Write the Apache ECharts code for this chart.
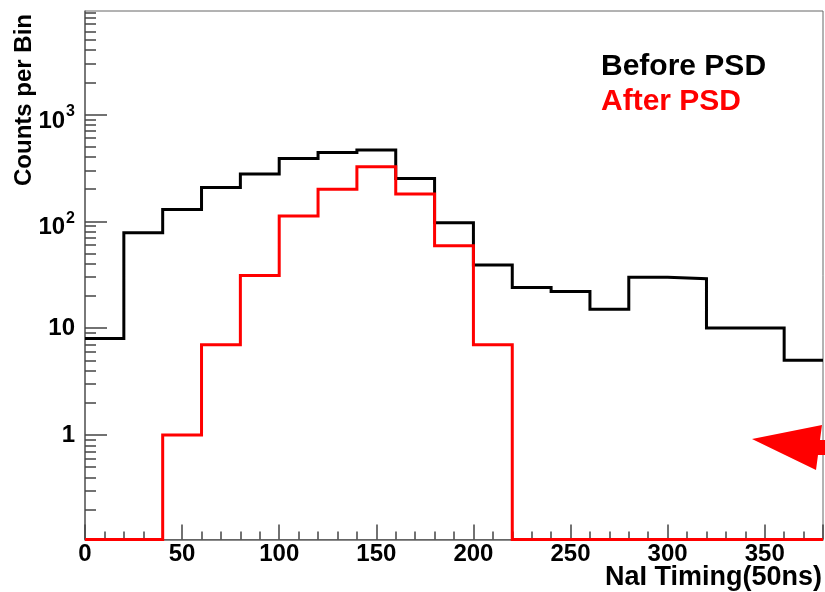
<!DOCTYPE html>
<html>
<head>
<meta charset="utf-8">
<script src="https://cdn.jsdelivr.net/npm/echarts@6/dist/echarts.min.js"></script>
<style>html,body{margin:0;padding:0;background:#fff}#c{width:825px;height:592px}</style>
</head>
<body>
<div id="c"></div>
<script>
// ---- data ----
var binEdges = [0, 20, 40, 60, 80, 100, 120, 140, 160, 180, 200, 220, 240, 260, 280, 300, 320, 340, 360, 380];
var beforePSD = [8, 78, 129, 207, 277, 387, 441, 464, 252, 97, 39, 24, 22, 15, 30, 29, 10, 10, 5];
var afterPSD  = [0, 0, 1, 7, 31, 112, 199, 324, 180, 59, 7, 0, 0, 0, 0, 0, 0, 0, 0];
var xTickLabels = [0, 50, 100, 150, 200, 250, 300, 350];
var yTickLabels = [1, 10, 100, 1000];
var seriesNames = ['Before PSD', 'After PSD'];
var xTitle = 'NaI Timing(50ns)';
var yTitle = 'Counts per Bin';

var X_MIN = 0, X_MAX = 380, Y_MIN = 0.105, Y_MAX = 9300;
var FONT = "'Liberation Sans', Arial, sans-serif";

// minor log ticks (2..9 x decade)
var yMinor = [];
[0.1, 1, 10, 100, 1000].forEach(function (d) {
  for (var k = 2; k <= 9; k++) {
    var v = +(d * k).toPrecision(3);
    if (v > Y_MIN && v < Y_MAX) yMinor.push(v);
  }
});

function stepData(vals) {
  var pts = [];
  for (var i = 0; i < vals.length; i++) {
    var v = vals[i] > 0 ? vals[i] : Y_MIN; // empty bins drawn on the frame floor
    pts.push([binEdges[i], v]);
  }
  pts.push([binEdges[vals.length], vals[vals.length - 1] > 0 ? vals[vals.length - 1] : Y_MIN]);
  return pts;
}

function yLabel(v) {
  var e = Math.round(Math.log10(v));
  if (e === 0) return '1';
  if (e === 1) return '10';
  return '{m|10}{s|' + e + '}';
}

var chart = echarts.init(document.getElementById('c'), null, { renderer: 'canvas' });
chart.setOption({
  animation: false,
  backgroundColor: '#fff',
  grid: { left: 85, right: 2, top: 11, bottom: 52.5, show: true, borderColor: '#666', borderWidth: 1, backgroundColor: 'transparent' },
  legend: {
    orient: 'vertical', left: 591, top: 47, icon: 'none', itemWidth: 0, itemHeight: 14, itemGap: 5,
    selectedMode: false,
    textStyle: { fontSize: 30, fontWeight: 'bold', fontFamily: FONT },
    data: [
      { name: seriesNames[0], textStyle: { color: '#000' } },
      { name: seriesNames[1], textStyle: { color: '#ff0000' } }
    ]
  },
  xAxis: {
    type: 'value', min: X_MIN, max: X_MAX, interval: 50,
    axisLine: { show: true, lineStyle: { color: '#666', width: 1.5 } },
    axisTick: { show: true, inside: true, length: 15, lineStyle: { color: '#444', width: 1.5 } },
    minorTick: { show: true, splitNumber: 5, length: 8, lineStyle: { color: '#444', width: 1.5 } },
    splitLine: { show: false },
    axisLabel: {
      margin: 3, color: '#000', fontSize: 24, fontWeight: 'bold', fontFamily: FONT,
      showMaxLabel: false,
      formatter: function (v) { return xTickLabels.indexOf(v) >= 0 ? String(v) : ''; }
    }
  },
  yAxis: [{
    type: 'log', logBase: 10, min: Y_MIN, max: Y_MAX,
    axisLine: { show: true, lineStyle: { color: '#666', width: 1.5 } },
    axisTick: { show: true, inside: true, length: 22, customValues: yTickLabels, lineStyle: { color: '#444', width: 1.5 } },
    splitLine: { show: false },
    axisLabel: {
      customValues: yTickLabels, margin: 10, color: '#000', fontSize: 24, fontWeight: 'bold', fontFamily: FONT,
      formatter: yLabel,
      rich: {
        m: { fontSize: 24, fontWeight: 'bold', fontFamily: FONT, color: '#000', verticalAlign: 'bottom' },
        s: { fontSize: 16, fontWeight: 'bold', fontFamily: FONT, color: '#000', verticalAlign: 'top', padding: [8, 0, 13, 1] }
      }
    }
  }, {
    type: 'log', logBase: 10, min: Y_MIN, max: Y_MAX, position: 'left',
    axisLine: { show: false },
    axisTick: { show: true, inside: true, length: 11, customValues: yMinor, lineStyle: { color: '#444', width: 1.5 } },
    splitLine: { show: false },
    axisLabel: { show: false }
  }],
  series: [{
    name: seriesNames[0], type: 'line', step: 'end', symbol: 'none', clip: false,
    data: stepData(beforePSD), z: 3,
    lineStyle: { color: '#000', width: 3, join: 'miter', cap: 'butt' },
    itemStyle: { color: '#000' }
  }, {
    name: seriesNames[1], type: 'line', step: 'end', symbol: 'none', clip: false,
    data: stepData(afterPSD), z: 4,
    lineStyle: { color: '#ff0000', width: 3, join: 'miter', cap: 'butt' },
    itemStyle: { color: '#ff0000' }
  }],
  graphic: [{
    type: 'text', x: 24, y: 100, rotation: Math.PI / 2,
    style: { text: yTitle, fill: '#000', font: 'bold 24px ' + FONT, textAlign: 'center', textVerticalAlign: 'middle' }
  }, {
    type: 'text', x: 822, y: 578,
    style: { text: xTitle, fill: '#000', font: 'bold 27px ' + FONT, textAlign: 'right', textVerticalAlign: 'middle' }
  }, {
    type: 'polygon', z: 100,
    shape: { points: [[752, 439], [822, 425], [820, 440], [826, 440], [826, 455], [818, 455], [816, 470]] },
    style: { fill: '#ff0000' }
  }]
});
</script>
</body>
</html>
